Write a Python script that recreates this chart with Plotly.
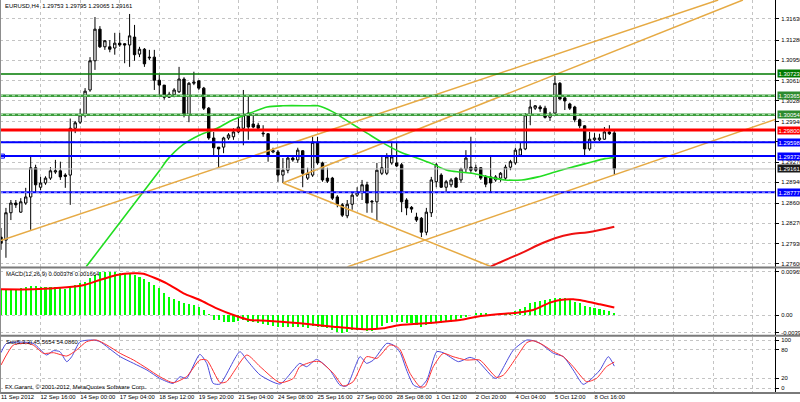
import plotly.graph_objects as go

# ---------------- data ----------------
title_text = "EURUSD,H4  1.29753 1.29795 1.29065 1.29161"
macd_title = "MACD(12,26,9) 0.000378 0.001664"
sto_title = "Sto(5,3,3) 45.5654 54.0860"
copyright_text = "FX Garant, \u00a9 2001-2012, MetaQuotes Software Corp."

opens = [1.2804, 1.2799, 1.2844, 1.2860, 1.2845, 1.2860, 1.2870, 1.2918, 1.2886, 1.2893,
         1.2901, 1.2911, 1.2913, 1.2906, 1.2906, 1.2983, 1.2993, 1.3005, 1.3046, 1.3094,
         1.3146, 1.3117, 1.3117, 1.3115, 1.3123, 1.3122, 1.3120, 1.3133, 1.3105, 1.3113,
         1.3100, 1.3100, 1.3062, 1.3054, 1.3034, 1.3038, 1.3043, 1.3064, 1.3005, 1.3057,
         1.3061, 1.3049, 1.3016, 1.2967, 1.2952, 1.2952, 1.2967, 1.2969, 1.2977, 1.2983,
         1.3008, 1.2990, 1.2988, 1.2975, 1.2974, 1.2944, 1.2944, 1.2906, 1.2914, 1.2934,
         1.2931, 1.2946, 1.2901, 1.2906, 1.2960, 1.2926, 1.2901, 1.2901, 1.2870, 1.2857,
         1.2839, 1.2858, 1.2873, 1.2877, 1.2890, 1.2863, 1.2862, 1.2909, 1.2909, 1.2926,
         1.2926, 1.2923, 1.2865, 1.2853, 1.2837, 1.2835, 1.2812, 1.2844, 1.2895, 1.2906,
         1.2886, 1.2890, 1.2901, 1.2898, 1.2916, 1.2919, 1.2918, 1.2918, 1.2903, 1.2903,
         1.2898, 1.2901, 1.2901, 1.2919, 1.2926, 1.2939, 1.2949, 1.3005, 1.3016, 1.3018,
         1.3016, 1.3001, 1.3008, 1.3057, 1.3033, 1.3023, 1.3018, 1.2997, 1.2987, 1.2949,
         1.2964, 1.2964, 1.2965, 1.2977, 1.29753]
highs = [1.2819, 1.2852, 1.2865, 1.2865, 1.2868, 1.2885, 1.2936, 1.2923, 1.2903, 1.2904,
         1.2919, 1.2931, 1.2928, 1.2909, 1.2999, 1.2995, 1.3015, 1.3049, 1.3100, 1.3166,
         1.3151, 1.3128, 1.3128, 1.3140, 1.3140, 1.3123, 1.3171, 1.3153, 1.3117, 1.3115,
         1.3112, 1.3112, 1.3071, 1.3054, 1.3043, 1.3049, 1.3084, 1.3067, 1.3059, 1.3076,
         1.3062, 1.3051, 1.3018, 1.2977, 1.2952, 1.2969, 1.2975, 1.2983, 1.3001, 1.3046,
         1.3038, 1.3008, 1.2992, 1.2988, 1.2975, 1.2951, 1.2947, 1.2934, 1.2936, 1.2936,
         1.2951, 1.2947, 1.2918, 1.2969, 1.2969, 1.2928, 1.2918, 1.2903, 1.2873, 1.2860,
         1.2865, 1.2877, 1.2886, 1.2898, 1.2895, 1.2865, 1.2926, 1.2939, 1.2942, 1.2959,
         1.2959, 1.2926, 1.2868, 1.2855, 1.2844, 1.2837, 1.2852, 1.2903, 1.2926, 1.2909,
         1.2898, 1.2901, 1.2903, 1.2918, 1.2947, 1.2969, 1.2923, 1.2919, 1.2906, 1.2936,
         1.2906, 1.2911, 1.2923, 1.2931, 1.2951, 1.2959, 1.3008, 1.3030, 1.3021, 1.3021,
         1.3020, 1.3010, 1.3069, 1.3059, 1.3034, 1.3025, 1.3020, 1.2999, 1.2988, 1.2977,
         1.2975, 1.2974, 1.2985, 1.2988, 1.29795]
lows = [1.2783, 1.2770, 1.2832, 1.2852, 1.2844, 1.2857, 1.2816, 1.2877, 1.2881, 1.2890,
        1.2898, 1.2908, 1.2898, 1.2885, 1.2857, 1.2975, 1.2990, 1.3001, 1.3043, 1.3079,
        1.3115, 1.3112, 1.3108, 1.3104, 1.3117, 1.3090, 1.3084, 1.3094, 1.3100, 1.3084,
        1.3095, 1.3046, 1.3038, 1.3030, 1.3033, 1.3034, 1.3041, 1.3001, 1.2993, 1.3054,
        1.3046, 1.3013, 1.2964, 1.2936, 1.2919, 1.2942, 1.2964, 1.2964, 1.2975, 1.2955,
        1.2964, 1.2983, 1.2980, 1.2969, 1.2928, 1.2942, 1.2895, 1.2893, 1.2909, 1.2928,
        1.2926, 1.2886, 1.2898, 1.2903, 1.2923, 1.2895, 1.2893, 1.2865, 1.2853, 1.2837,
        1.2835, 1.2849, 1.2870, 1.2865, 1.2844, 1.2844, 1.2832, 1.2906, 1.2906, 1.2923,
        1.2919, 1.2845, 1.2840, 1.2844, 1.2829, 1.2804, 1.2807, 1.2837, 1.2886, 1.2885,
        1.2878, 1.2886, 1.2885, 1.2893, 1.2911, 1.2909, 1.2911, 1.2898, 1.2886, 1.2878,
        1.2895, 1.2895, 1.2898, 1.2914, 1.2923, 1.2936, 1.2947, 1.2988, 1.3013, 1.3010,
        1.2999, 1.2995, 1.3005, 1.3030, 1.3013, 1.3013, 1.2993, 1.2983, 1.2937, 1.2946,
        1.2962, 1.2962, 1.2964, 1.2972, 1.29065]
closes = [1.2794, 1.2844, 1.2860, 1.2857, 1.2862, 1.2870, 1.2918, 1.2890, 1.2893, 1.2901,
          1.2913, 1.2913, 1.2903, 1.2904, 1.2983, 1.2992, 1.3005, 1.3044, 1.3094, 1.3146,
          1.3117, 1.3127, 1.3113, 1.3123, 1.3120, 1.3120, 1.3135, 1.3104, 1.3113, 1.3089,
          1.3099, 1.3062, 1.3054, 1.3034, 1.3039, 1.3046, 1.3064, 1.3005, 1.3057, 1.3059,
          1.3049, 1.3016, 1.2967, 1.2951, 1.2949, 1.2967, 1.2972, 1.2977, 1.2985, 1.3005,
          1.2985, 1.2985, 1.2983, 1.2974, 1.2937, 1.2946, 1.2906, 1.2914, 1.2934, 1.2931,
          1.2947, 1.2909, 1.2909, 1.2960, 1.2926, 1.2898, 1.2896, 1.2868, 1.2858, 1.2840,
          1.2858, 1.2873, 1.2878, 1.2890, 1.2860, 1.2862, 1.2914, 1.2918, 1.2936, 1.2936,
          1.2921, 1.2862, 1.2852, 1.2850, 1.2832, 1.2812, 1.2845, 1.2898, 1.2923, 1.2886,
          1.2895, 1.2898, 1.2886, 1.2916, 1.2934, 1.2914, 1.2914, 1.2901, 1.2891, 1.2893,
          1.2903, 1.2909, 1.2919, 1.2928, 1.2947, 1.2949, 1.3005, 1.3018, 1.3020, 1.3015,
          1.3001, 1.3006, 1.3057, 1.3031, 1.3028, 1.3016, 1.2997, 1.2987, 1.2949, 1.2965,
          1.2967, 1.2967, 1.2977, 1.2974, 1.29161]

macd_hist = [0.00570, 0.00570, 0.00570, 0.00585, 0.00607, 0.00629, 0.00644, 0.00644, 0.00629, 0.00629,
             0.00629, 0.00629, 0.00614, 0.00585, 0.00644, 0.00666, 0.00703, 0.00740, 0.00814, 0.00888,
             0.00950, 0.00965, 0.00960, 0.00950, 0.00935, 0.00920, 0.00935, 0.00888, 0.00851, 0.00792,
             0.00740, 0.00666, 0.00592, 0.00481, 0.00407, 0.00348, 0.00318, 0.00259, 0.00237, 0.00222,
             0.00185, 0.00111, 0.00022, -0.00111, -0.00111, -0.00148, -0.00148, -0.00148, -0.00133, -0.00111,
             -0.00148, -0.00148, -0.00170, -0.00200, -0.00222, -0.00244, -0.00274, -0.00274, -0.00259, -0.00259,
             -0.00259, -0.00274, -0.00281, -0.00244, -0.00259, -0.00274, -0.00296, -0.00333, -0.00375, -0.00396,
             -0.00370, -0.00333, -0.00333, -0.00333, -0.00348, -0.00348, -0.00296, -0.00244, -0.00185, -0.00148,
             -0.00148, -0.00148, -0.00170, -0.00185, -0.00222, -0.00259, -0.00222, -0.00200, -0.00170, -0.00170,
             -0.00148, -0.00148, -0.00133, -0.00074, -0.00037, 0.00000, 0.00037, 0.00037, 0.00037, 0.00022,
             0.00005, 0.00015, 0.00037, 0.00052, 0.00096, 0.00126, 0.00185, 0.00259, 0.00296, 0.00318,
             0.00333, 0.00348, 0.00370, 0.00385, 0.00370, 0.00348, 0.00296, 0.00259, 0.00200, 0.00170,
             0.00148, 0.00126, 0.00111, 0.00096, 0.000378]

macd_sig_idx = [0, 6.5, 13.3, 16.6, 20.0, 23.4, 26.8, 28.8, 33.5, 36.9, 40.2, 43.6, 47.0, 50.3,
                53.7, 60.5, 67.2, 70.6, 73.9, 77.3, 80.7, 87.4, 92.8, 96.2, 100.9, 104.3, 107.6,
                111.0, 113.0, 115.7, 117.7, 121.1, 124]
macd_sig_val = [0.00570, 0.00570, 0.00614, 0.00659, 0.00777, 0.00888, 0.00925, 0.00918, 0.00703,
                0.00481, 0.00333, 0.00148, 0.0, -0.00111, -0.00126, -0.00185, -0.00259, -0.00296,
                -0.00318, -0.00296, -0.00222, -0.00170, -0.00111, -0.00037, 0.00022, 0.00052,
                0.00111, 0.00274, 0.00333, 0.00348, 0.00318, 0.00237, 0.001664]

sto_main_idx = [0, 1.15, 6.5, 9.2, 10.6, 11.9, 13.3, 14.3, 16.0, 18.7, 20.0, 24.1, 26.8, 29.5, 32.1,
                34.8, 36.2, 37.5, 40.2, 41.6, 42.9, 44.3, 48.3, 49.7, 52.4, 56.4, 59.1, 60.4, 61.8,
                63.8, 66.5, 68.5, 69.9, 72.6, 73.9, 75.3, 78.0, 79.3, 80.7, 82.0, 83.4, 84.7, 86.1,
                88.1, 89.4, 92.5, 94.8, 96.2, 99.5, 100.2, 103.6, 106.3, 107.6, 109.0, 111.7, 113.7,
                115.7, 117.7, 119.1, 121.1, 122.8, 124]
sto_main_val = [73.6, 93.1, 93.1, 68.8, 77.8, 75.7, 54.9, 65.3, 96.5, 100, 96.5, 65.3, 51.4, 37.5,
                20.1, 9.7, 23.6, 20.1, 70.1, 51.4, 9.7, 8.3, 75.7, 58.3, 27.1, 8.3, 37.5, 51.4, 44.4,
                59.7, 37.5, 6.3, 4.2, 65.3, 51.4, 58.3, 93.1, 89.6, 74.0, 37.5, 6.3, 1.4, 16.7, 75.7,
                73.6, 54.9, 63.9, 58.3, 22.2, 20.1, 79.2, 100, 98.6, 93.1, 72.2, 65.3, 37.5, 7.6,
                16.7, 37.5, 65.3, 45.5654]
sto_sig_idx = [0, 2.5, 5.2, 6.5, 8.6, 10.6, 13.3, 15.3, 17.3, 19.3, 21.4, 24.1, 26.8, 29.5, 32.1,
               34.8, 37.5, 40.2, 41.6, 44.3, 45.6, 49.7, 52.4, 56.4, 59.1, 60.4, 63.1, 64.5, 67.2,
               69.2, 71.2, 73.9, 76.0, 78.6, 80.0, 80.7, 82.7, 84.7, 85.7, 87.4, 89.4, 91.4, 94.1,
               96.8, 100.2, 101.6, 104.3, 106.3, 107.6, 109.6, 111.7, 113.7, 115.7, 118.4, 120.4,
               122.4, 124]
sto_sig_val = [47.9, 89.6, 93.1, 89.6, 72.2, 73.6, 66.7, 79.2, 96.5, 100, 89.6, 72.2, 58.3, 41.0,
               23.6, 11.1, 23.6, 58.3, 58.3, 11.1, 13.2, 68.8, 44.4, 11.1, 20.1, 44.4, 54.9, 54.9,
               30.6, 4.2, 13.2, 65.3, 61.8, 89.6, 86.1, 80.0, 30.6, 2.8, 2.8, 44.4, 72.2, 65.3, 58.3,
               58.3, 22.2, 27.1, 65.3, 94.4, 98.6, 89.6, 75.7, 65.3, 44.4, 13.2, 20.1, 44.4, 54.086]

ma_green_idx = [17.2, 24.7, 32.1, 33.6, 36.8, 40.2, 43.7, 46.9, 50.4, 53.8, 57.0, 62.5, 64.1, 67.1,
                70.6, 74.0, 77.2, 80.7, 84.1, 87.3, 90.2, 92.8, 95.2, 98.5, 101.9, 105.3, 108.6,
                112.0, 115.4, 118.7, 122.1, 124.0]
ma_green_val = [1.2755, 1.2835, 1.2914, 1.2931, 1.2956, 1.2972, 1.2983, 1.2997, 1.3008, 1.3018,
                1.3020, 1.3020, 1.3020, 1.3010, 1.2992, 1.2975, 1.2959, 1.2944, 1.2934, 1.2924,
                1.2914, 1.2911, 1.2909, 1.2903, 1.2898, 1.2898, 1.2903, 1.2911, 1.2919, 1.2926,
                1.2933, 1.2935]
ma_red_idx = [98.9, 101.9, 105.3, 108.6, 112.0, 115.4, 118.7, 124.0]
ma_red_val = [1.2755, 1.2766, 1.2778, 1.2791, 1.2802, 1.2809, 1.2812, 1.2821]

# trend lines: two anchor points (bar index, price)
trend_x0 = [-0.2, 57.0, 57.0, 70.0]
trend_y0 = [1.2798, 1.2893, 1.2893, 1.2755]
trend_x1 = [145.0, 150.0, 98.9, 156.7]
trend_y1 = [1.3194, 1.3194, 1.2756, 1.2998]

level_values = [1.30723, 1.30365, 1.30054, 1.29800, 1.29598, 1.29372, 1.29161, 1.28777]
level_colors = ["#007a00", "#3c9c3c", "#3c9c3c", "#ff0000", "#0000ff", "#0000ff", "#c0c0c0", "#0000ff"]
level_widths = [1.5, 2.5, 2.5, 3, 2, 2, 1, 2]
level_dotted = [False, True, True, False, False, False, False, True]
level_label_bg = ["#007a00", "#2e8b2e", "#2e8b2e", "#ff0000", "#0000ff", "#0000ff", "#1a1a1a", "#0000ff"]

price_ticks = [1.31630, 1.31280, 1.30950, 1.30610, 1.30280, 1.29940, 1.29610, 1.29270,
               1.28940, 1.28600, 1.28270, 1.27930, 1.27600]
price_tick_text = ["1.31630", "1.31280", "1.30950", "1.30610", "1.30280", "1.29940", "",
                   "1.29270", "1.28940", "1.28600", "1.28270", "1.27930", "1.27600"]
macd_ticks = [0.009653, 0.0, -0.00396]
macd_tick_text = ["0.009653", "0.00", "-0.003960"]
sto_ticks = [100, 80, 20, 0]

date_labels = ["11 Sep 2012", "12 Sep 16:00", "14 Sep 00:00", "17 Sep 04:00", "18 Sep 12:00",
               "19 Sep 20:00", "21 Sep 04:00", "24 Sep 08:00", "25 Sep 16:00", "27 Sep 00:00",
               "28 Sep 08:00", "1 Oct 12:00", "2 Oct 20:00", "4 Oct 04:00", "5 Oct 12:00",
               "8 Oct 16:00"]
bars_per_label = 8
n_grid = 20

# ---------------- figure ----------------
W, H = 800, 402
FONT = "Liberation Sans, Arial, sans-serif"
FS = 5.9
idx = list(range(len(opens)))
grid_vals = [k * bars_per_label for k in range(n_grid)]
grid_text = [date_labels[k] if k < len(date_labels) else "" for k in range(n_grid)]

def py(px):
    return 1 - px / H

x_dom = [0, 775 / W]
x_rng = [-0.2022, 156.49]
main_dom = [py(266.5), 1.0]
macd_dom = [py(335), py(268)]
sto_dom = [py(392), py(337)]

fig = go.Figure()

fig.add_trace(go.Candlestick(
    x=idx, open=opens, high=highs, low=lows, close=closes,
    increasing=dict(line=dict(color="black", width=1), fillcolor="white"),
    decreasing=dict(line=dict(color="black", width=1), fillcolor="black"),
    whiskerwidth=0, hoverinfo="skip", showlegend=False, xaxis="x", yaxis="y"))

fig.add_trace(go.Scatter(x=ma_green_idx, y=ma_green_val, mode="lines",
                         line=dict(color="#22dd22", width=1.6, shape="spline", smoothing=0.8),
                         showlegend=False, hoverinfo="skip", xaxis="x", yaxis="y"))
fig.add_trace(go.Scatter(x=ma_red_idx, y=ma_red_val, mode="lines",
                         line=dict(color="#ee1111", width=2, shape="spline"),
                         showlegend=False, hoverinfo="skip", xaxis="x", yaxis="y"))
for a, b, c, d in zip(trend_x0, trend_y0, trend_x1, trend_y1):
    fig.add_trace(go.Scatter(x=[a, c], y=[b, d], mode="lines",
                             line=dict(color="#e6aa44", width=1.5),
                             showlegend=False, hoverinfo="skip", xaxis="x", yaxis="y"))

# selected-object marker on 1.29372 line
fig.add_trace(go.Scatter(x=[0.3], y=[level_values[5]], mode="markers",
                         marker=dict(symbol="square-open", size=4, color="#0000ff", line=dict(width=1)),
                         showlegend=False, hoverinfo="skip", xaxis="x", yaxis="y"))

# MACD
fig.add_trace(go.Bar(x=idx, y=macd_hist, width=0.42, marker=dict(color="#00ff00", line=dict(width=0)),
                     showlegend=False, hoverinfo="skip", xaxis="x2", yaxis="y2"))
fig.add_trace(go.Scatter(x=macd_sig_idx, y=macd_sig_val, mode="lines",
                         line=dict(color="#ff0000", width=2, shape="spline", smoothing=0.6),
                         showlegend=False, hoverinfo="skip", xaxis="x2", yaxis="y2"))

# Stochastic
fig.add_trace(go.Scatter(x=sto_main_idx, y=sto_main_val, mode="lines",
                         line=dict(color="#4b4bdc", width=1, shape="spline", smoothing=0.6),
                         showlegend=False, hoverinfo="skip", xaxis="x3", yaxis="y3"))
fig.add_trace(go.Scatter(x=sto_sig_idx, y=sto_sig_val, mode="lines",
                         line=dict(color="#ff3030", width=1, shape="spline", smoothing=0.6),
                         showlegend=False, hoverinfo="skip", xaxis="x3", yaxis="y3"))

shapes = []
annotations = []
for v, col, w, dotted, bg in zip(level_values, level_colors, level_widths, level_dotted, level_label_bg):
    shapes.append(dict(type="line", xref="x domain", yref="y", x0=0, x1=1, y0=v, y1=v,
                       line=dict(color=col, width=w), layer="above"))
    if dotted:
        shapes.append(dict(type="line", xref="x domain", yref="y", x0=0, x1=1, y0=v, y1=v,
                           line=dict(color="#b8ecb8" if col != "#0000ff" else "#9a9aff", width=1, dash="dot"),
                           layer="above"))
    annotations.append(dict(xref="paper", yref="y", x=776.5 / W, y=v, xanchor="left", yanchor="middle",
                            text=f"{v:.5f}", showarrow=False, bgcolor=bg, borderpad=0.5,
                            font=dict(family=FONT, size=FS, color="white")))

# panel separators and frame
for top, bot in [(266.5, 268.5), (334.8, 336.8), (392, 394)]:
    shapes.append(dict(type="rect", xref="paper", yref="paper", x0=0, x1=1, y0=py(bot), y1=py(top),
                       fillcolor="#7a7a7a", line=dict(width=0), layer="above"))
shapes.append(dict(type="line", xref="paper", yref="paper", x0=0.0006, x1=0.0006, y0=py(394), y1=1,
                   line=dict(color="#8a8a8a", width=1), layer="above"))

annotations += [
    dict(xref="paper", yref="paper", x=3 / W, y=py(6.5), text=title_text, showarrow=False,
         xanchor="left", yanchor="middle", font=dict(family=FONT, size=FS, color="black")),
    dict(xref="paper", yref="paper", x=4 / W, y=py(273.5), text=macd_title, showarrow=False,
         xanchor="left", yanchor="middle", font=dict(family=FONT, size=FS, color="black")),
    dict(xref="paper", yref="paper", x=4 / W, y=py(341.5), text=sto_title, showarrow=False,
         xanchor="left", yanchor="middle", font=dict(family=FONT, size=FS, color="black")),
    dict(xref="paper", yref="paper", x=3 / W, y=py(387), text=copyright_text, showarrow=False,
         xanchor="left", yanchor="middle", font=dict(family=FONT, size=FS, color="black")),
]

grid_common = dict(showgrid=True, gridcolor="#c4c4c4", gridwidth=1, griddash="dot", zeroline=False,
                   automargin=False)
xcommon = dict(domain=x_dom, range=x_rng, tickmode="array", tickvals=grid_vals, ticktext=grid_text,
               fixedrange=True, **grid_common)
ycommon = dict(side="right", showline=True, linecolor="black", linewidth=1, ticks="outside",
               ticklen=3, tickcolor="black", tickfont=dict(family=FONT, size=FS, color="black"),
               tickmode="array", ticklabelstandoff=1, fixedrange=True, **grid_common)

fig.update_layout(
    width=W, height=H, margin=dict(l=0, r=0, t=0, b=0, pad=0, autoexpand=False),
    paper_bgcolor="white", plot_bgcolor="white", showlegend=False, bargap=0, boxgap=0.32,
    xaxis=dict(anchor="y", showticklabels=False, rangeslider=dict(visible=False), **xcommon),
    xaxis2=dict(anchor="y2", showticklabels=False, matches="x", **xcommon),
    xaxis3=dict(anchor="y3", showticklabels=True, matches="x", ticks="", tickangle=0,
                ticklabelposition="outside right",
                tickfont=dict(family=FONT, size=FS, color="black"), **xcommon),
    yaxis=dict(anchor="x", domain=main_dom, range=[1.27556, 1.31940], tickvals=price_ticks,
               ticktext=price_tick_text, **ycommon),
    yaxis2=dict(anchor="x2", domain=macd_dom, range=[-0.00444, 0.010434], tickvals=macd_ticks,
                ticktext=macd_tick_text, **ycommon),
    yaxis3=dict(anchor="x3", domain=sto_dom, range=[-8.3, 106.3], tickvals=sto_ticks,
                ticktext=[str(t) for t in sto_ticks], **ycommon),
    shapes=shapes, annotations=annotations,
)

fig.write_html("out.html", config={"displayModeBar": False},
               post_script="document.body.style.margin='0px';document.body.style.overflow='hidden';")
